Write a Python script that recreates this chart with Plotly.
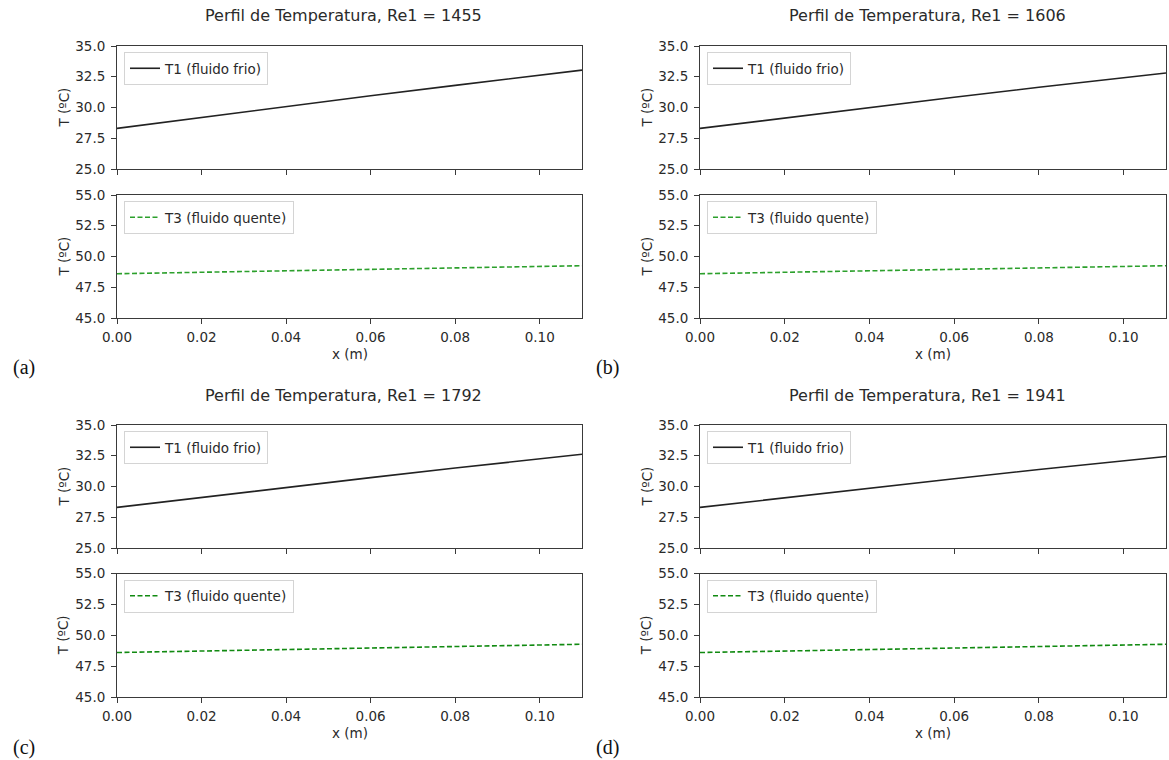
import plotly.graph_objects as go

# Position along the exchanger (m)
x_pos = [0.0, 0.02, 0.04, 0.06, 0.08, 0.10, 0.11]

# Reynolds number of the cold stream for each case
reynolds = [1455, 1606, 1792, 1941]
panel_tags = ["(a)", "(b)", "(c)", "(d)"]

# T1: cold fluid temperature (ºC)
t1_a = [28.30, 29.20, 30.08, 30.95, 31.80, 32.63, 33.04]
t1_b = [28.30, 29.16, 30.00, 30.83, 31.64, 32.43, 32.80]
t1_c = [28.30, 29.12, 29.93, 30.72, 31.50, 32.25, 32.62]
t1_d = [28.30, 29.09, 29.87, 30.63, 31.38, 32.09, 32.44]

# T3: hot fluid temperature (ºC)
t3_a = [48.60, 48.72, 48.84, 48.96, 49.07, 49.19, 49.25]
t3_b = [48.60, 48.72, 48.84, 48.96, 49.07, 49.19, 49.25]
t3_c = [48.60, 48.72, 48.84, 48.96, 49.08, 49.20, 49.27]
t3_d = [48.60, 48.72, 48.84, 48.96, 49.08, 49.20, 49.27]

cold_series = [t1_a, t1_b, t1_c, t1_d]
hot_series = [t3_a, t3_b, t3_c, t3_d]

x_ticks = [0.0, 0.02, 0.04, 0.06, 0.08, 0.10]
cold_ticks = [25.0, 27.5, 30.0, 32.5, 35.0]
hot_ticks = [45.0, 47.5, 50.0, 52.5, 55.0]

W, H = 1169, 760
FONT = "DejaVu Sans"
TEXT = "#2a2a2a"
AXIS = "#3a3a3a"
hot_colors = ["#2ca02c", "#2ca02c", "#118a11", "#118a11"]

# Pixel boxes of each panel: columns (left, right), rows (top plot, bottom plot)
col_px = [(117, 582), (700, 1166)]
row_px = [((46, 169), (195, 318)), ((425, 548), (573.5, 697))]


def fx(px):
    return px / W


def fy(py):
    return 1 - py / H


fig = go.Figure()
layout = dict(
    width=W, height=H,
    margin=dict(l=0, r=0, t=0, b=0, pad=0, autoexpand=False),
    paper_bgcolor="white", plot_bgcolor="white",
    font=dict(family=FONT, size=13, color=TEXT),
    showlegend=True,
)
annotations = []

ax = 0
for p in range(4):
    col = p % 2
    row = p // 2
    x0, x1 = col_px[col]
    (ty0, ty1), (by0, by1) = row_px[row]

    for k, (series, name, yr, yt, boxes) in enumerate([
        (cold_series[p], "T1 (fluido frio)", [25, 35], cold_ticks, (ty0, ty1)),
        (hot_series[p], "T3 (fluido quente)", [45, 55], hot_ticks, (by0, by1)),
    ]):
        ax += 1
        xs = "" if ax == 1 else str(ax)
        leg = "legend" if ax == 1 else f"legend{ax}"
        if k == 0:
            line = dict(color="#222222", width=1.6)
        else:
            line = dict(color=hot_colors[p], width=1.6, dash="5px,2.5px")
        fig.add_trace(go.Scatter(
            x=x_pos, y=series, mode="lines", name=name, line=line,
            xaxis=f"x{xs}", yaxis=f"y{xs}", legend=leg,
        ))
        layout[f"xaxis{xs}"] = dict(
            domain=[fx(x0), fx(x1)], anchor=f"y{xs}", range=[0, 0.11],
            tickvals=x_ticks, tickformat=".2f", showticklabels=(k == 1),
            ticks="outside", ticklen=5, tickwidth=1, tickcolor=AXIS,
            showline=True, linecolor=AXIS, linewidth=1, mirror=True,
            showgrid=False, zeroline=False, automargin=False,
            tickfont=dict(family=FONT, size=13.5, color=TEXT),
            ticklabelstandoff=2,
        )
        layout[f"yaxis{xs}"] = dict(
            domain=[fy(boxes[1]), fy(boxes[0])], anchor=f"x{xs}", range=yr,
            tickvals=yt, tickformat=".1f",
            ticks="outside", ticklen=5, tickwidth=1, tickcolor=AXIS,
            showline=True, linecolor=AXIS, linewidth=1, mirror=True,
            showgrid=False, zeroline=False, automargin=False,
            tickfont=dict(family=FONT, size=13.5, color=TEXT),
            ticklabelstandoff=3,
        )
        layout[leg] = dict(
            x=fx(x0 + 7), y=fy(boxes[0] + 6), xanchor="left", yanchor="top",
            bgcolor="rgba(255,255,255,0.85)", bordercolor="#d4d4d4", borderwidth=1,
            font=dict(family=FONT, size=13.5, color=TEXT),
            itemwidth=30,
        )
        # y-axis title
        annotations.append(dict(
            x=fx(x0 - 54), y=fy((boxes[0] + boxes[1]) / 2), xref="paper", yref="paper",
            xanchor="center", yanchor="middle",
            text="T (ºC)", textangle=-90, showarrow=False,
            font=dict(family=FONT, size=13.5, color=TEXT),
        ))

    top_offset = 0 if row == 0 else 379
    cx = (x0 + x1) / 2
    annotations.append(dict(
        x=fx(cx - 6), y=fy(16 + top_offset), xref="paper", yref="paper",
        xanchor="center", yanchor="middle",
        text=f"Perfil de Temperatura, Re1 = {reynolds[p]}", showarrow=False,
        font=dict(family=FONT, size=16, color=TEXT),
    ))
    annotations.append(dict(
        x=fx(cx), y=fy(by1 + 36), xref="paper", yref="paper",
        xanchor="center", yanchor="middle",
        text="x (m)", showarrow=False,
        font=dict(family=FONT, size=13.5, color=TEXT),
    ))
    annotations.append(dict(
        x=fx(x0 - 93), y=fy(by1 + 50), xref="paper", yref="paper",
        xanchor="center", yanchor="middle",
        text=panel_tags[p], showarrow=False,
        font=dict(family="Liberation Serif", size=20, color="#111111"),
    ))

layout["annotations"] = annotations
fig.update_layout(**layout)
fig.write_html("out.html")
